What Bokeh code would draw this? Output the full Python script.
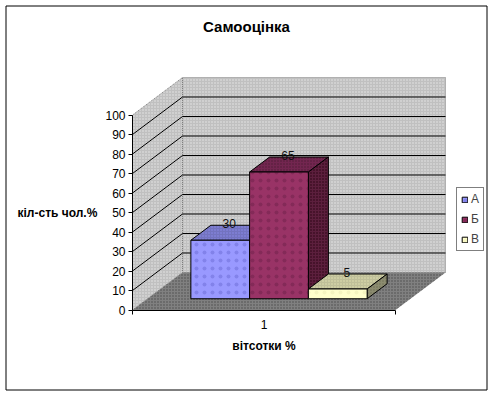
from bokeh.plotting import figure
from bokeh.core.properties import value
from bokeh.models import Range1d, Legend, LegendItem, FixedTicker, LinearAxis, BoxAnnotation
from bokeh.embed import file_html
from bokeh.resources import INLINE

series = ["А", "Б", "В"]
values = [30, 65, 5]
y_ticks = [0, 10, 20, 30, 40, 50, 60, 70, 80, 90, 100]
title = "Самооцінка"
y_title = "кіл-сть чол.%"
x_title = "вітсотки %"

FRONT = ["#9999FF", "#993366", "#FFFFCC"]
FRONT_DOT = ["#8282EA", "#842A58", "#F5F5C0"]
TOP = ["#7373BF", "#732650", "#BFBF99"]
TOP_DOT = ["#8C8CEB", "#4D1A33", "#E0E0B0"]
SIDE = ["#4D4D80", "#5C1F3D", "#8C8C70"]
SIDE_DOT = ["#333366", "#26000F", "#6E6E55"]

FONT = value("Liberation Sans")
L, R_AX, BOT, PX_U = 132, 395, 309.5, 1.95
sx = 1 / (R_AX - L)          # data x per pixel
DX, DY = 50 * sx, 37.5 / PX_U  # full depth offset in data units
x0, x1 = 0.5, 1.5
BW = 0.2234
D0, D1 = 0.3, 0.7
W, H = 493, 395

def X(px):
    return x0 + (px - L) * sx

def Y(px):
    return (BOT - px) / PX_U

p = figure(width=W, height=H, output_backend="svg", toolbar_location=None,
           x_range=Range1d(X(0), X(W)), y_range=Range1d(Y(H), Y(0)),
           x_axis_type=None, y_axis_type=None,
           min_border_left=0, min_border_right=0, min_border_top=0, min_border_bottom=0,
           outline_line_color=None)
p.grid.visible = False

p.add_layout(BoxAnnotation(left=5.5, right=486.5, top=5.5, bottom=389.5,
                           left_units="screen", right_units="screen",
                           top_units="screen", bottom_units="screen",
                           fill_alpha=0, line_color="black", line_alpha=1, line_width=1))

# walls and floor
top_v = y_ticks[-1]
p.patch([x0 + DX, x1 + DX, x1 + DX, x0 + DX], [DY, DY, DY + top_v, DY + top_v],
        fill_color="#C0C0C0", line_color="#808080", line_width=1, line_dash="1 1",
        hatch_pattern="dot", hatch_color="#E8E8E8", hatch_scale=3)
p.patch([x0, x0 + DX, x0 + DX, x0], [0, DY, DY + top_v, top_v],
        fill_color="#C0C0C0", line_color="#808080", line_width=1, line_dash="1 1",
        hatch_pattern="dot", hatch_color="#E8E8E8", hatch_scale=3)
p.patch([x0, x1, x1 + DX, x0 + DX], [0, 0, DY, DY],
        fill_color="#808080", line_color=None,
        hatch_pattern="dot", hatch_color="#4A4A4A", hatch_scale=3)
# gridlines
inner = y_ticks[1:-1]
p.multi_line([[x0 + DX, x1 + DX] for _ in inner], [[v + DY, v + DY] for v in inner],
             line_color="black", line_width=1)
p.multi_line([[x0, x0 + DX] for _ in inner], [[v, v + DY] for v in inner],
             line_color="black", line_width=1)

# bars
base = 1 - 1.5 * BW
renderers = []
for i, v in enumerate(values):
    a = base + i * BW
    b = a + BW
    xa, xb = a + D0 * DX, b + D0 * DX
    yb, yt = D0 * DY, v + D0 * DY
    ox, oy = (D1 - D0) * DX, (D1 - D0) * DY
    p.patch([xa, xb, xb + ox, xa + ox], [yt, yt, yt + oy, yt + oy],
            fill_color=TOP[i], line_color="black", line_width=1,
            hatch_pattern="dot", hatch_color=TOP_DOT[i], hatch_scale=3)
    p.patch([xb, xb + ox, xb + ox, xb], [yb, yb + oy, yt + oy, yt],
            fill_color=SIDE[i], line_color="black", line_width=1,
            hatch_pattern="dot", hatch_color=SIDE_DOT[i], hatch_scale=3)
    r = p.quad(left=[xa], right=[xb], bottom=[yb], top=[yt],
               fill_color=FRONT[i], line_color="black", line_width=1,
               hatch_pattern="dot", hatch_color=FRONT_DOT[i], hatch_scale=8)
    renderers.append(r)
    p.text(x=[(xa + xb) / 2 + ox / 2], y=[yt + oy / 2], text=[str(v)],
           text_font_size="12px", text_font=FONT, text_color="#111111",
           text_align="center", text_baseline="middle", x_offset=-1, y_offset=-9)

# axes
yax = LinearAxis(ticker=FixedTicker(ticks=y_ticks), bounds=(y_ticks[0], y_ticks[-1]),
                 fixed_location=x0, major_label_text_color="black",
                 major_label_text_font="Liberation Sans", major_label_text_font_size="12px",
                 major_label_standoff=3, major_tick_in=0, major_tick_out=4,
                 minor_tick_line_color=None)
p.add_layout(yax, "left")
xax = LinearAxis(ticker=FixedTicker(ticks=[1], minor_ticks=[x0, x1]), bounds=(x0, x1),
                 fixed_location=0, major_label_text_color="black",
                 major_label_text_font="Liberation Sans", major_label_text_font_size="12px",
                 major_label_standoff=4, major_tick_line_color=None,
                 minor_tick_in=0, minor_tick_out=4)
p.add_layout(xax, "below")

# titles
p.text(x=[X(246)], y=[Y(25.5)], text=[title], text_font=FONT, text_font_size="15px",
       text_font_style="bold", text_color="black", text_align="center", text_baseline="middle")
p.text(x=[X(17)], y=[Y(212)], text=[y_title], text_font=FONT, text_font_size="12px",
       text_font_style="bold", text_color="black", text_align="left", text_baseline="middle")
p.text(x=[1], y=[Y(345)], text=[x_title], text_font=FONT, text_font_size="12px",
       text_font_style="bold", text_color="black", text_align="center", text_baseline="middle")

legend = Legend(items=[LegendItem(label=s, renderers=[r]) for s, r in zip(series, renderers)],
                location=(456, H - 251), glyph_width=7, glyph_height=7, spacing=6, padding=4,
                margin=0, label_standoff=3, label_text_font="Liberation Sans",
                label_text_font_size="12px", label_height=12, label_width=0,
                border_line_color="black", border_line_width=1, background_fill_alpha=1)
p.add_layout(legend, "center")

open("out.html", "w").write(file_html(p, INLINE))
